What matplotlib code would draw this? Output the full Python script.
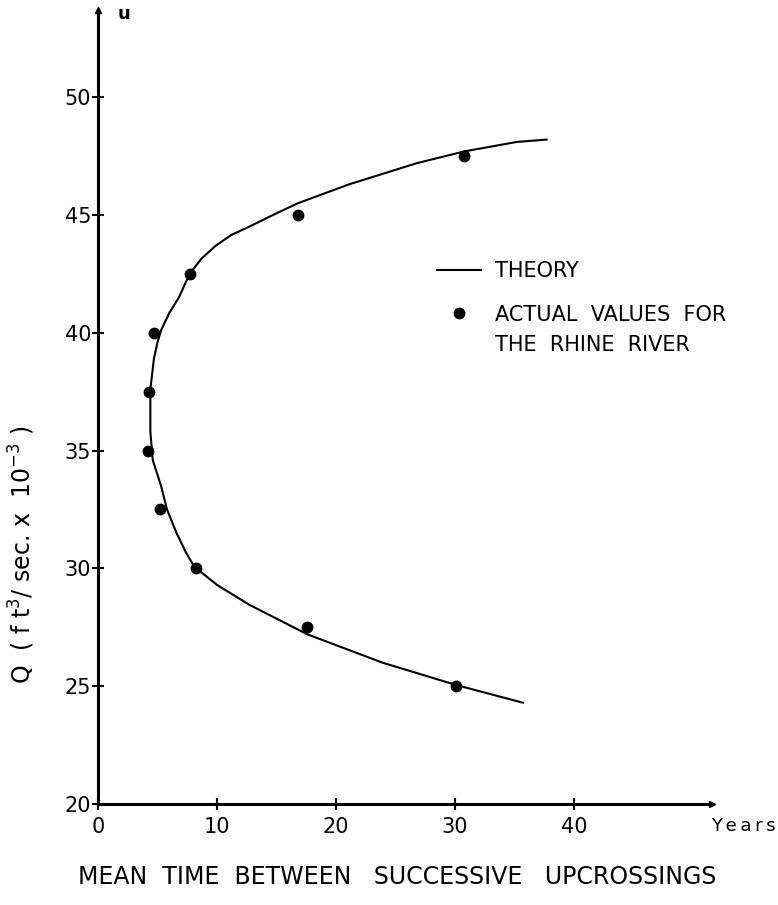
import matplotlib
matplotlib.use("Agg")
import matplotlib.pyplot as plt
from matplotlib.lines import Line2D

# theory curve (x = years, y = Q in 1000 ft3/s)
theory_x = [35.7, 30.1, 23.9, 17.6, 12.7, 10.0, 8.1, 7.4, 6.6, 5.8, 5.3, 4.6, 4.4,
            4.4, 4.7, 5.0, 5.3, 6.0, 6.8, 7.7, 8.7, 9.9, 11.2, 12.7, 14.5, 16.8,
            21.1, 26.8, 30.8, 35.2, 37.7]
theory_y = [24.3, 25.05, 26.0, 27.2, 28.46, 29.3, 30.07, 30.67, 31.5, 32.5, 33.5, 34.6, 35.8,
            37.6, 38.9, 39.6, 40.1, 40.85, 41.5, 42.5, 43.15, 43.7, 44.15, 44.5, 44.95, 45.5,
            46.3, 47.2, 47.7, 48.1, 48.2]

# actual values for the Rhine river
rhine_x = [30.8, 16.8, 7.7, 4.7, 4.3, 4.2, 5.2, 8.2, 17.6, 30.1]
rhine_y = [47.5, 45.0, 42.5, 40.0, 37.5, 35.0, 32.5, 30.0, 27.5, 25.0]

x_ticks = [0, 10, 20, 30, 40]
y_ticks = [20, 25, 30, 35, 40, 45, 50]

plt.rcParams['font.family'] = ['DejaVu Sans']

fig = plt.figure(figsize=(7.78, 9.05), dpi=100)
ax = fig.add_axes([98 / 778, 101 / 905, 614 / 778, 794 / 905])

ax.plot(theory_x, theory_y, color='black', lw=1.5)
ax.plot(rhine_x, rhine_y, 'o', color='black', ms=7.5)

ax.set_xlim(0, 51.6)
ax.set_ylim(20, 53.7)

for side in ['top', 'right']:
    ax.spines[side].set_visible(False)
for side in ['left', 'bottom']:
    ax.spines[side].set_linewidth(2.2)

# arrow heads at the axis ends
ax.plot(1, 20, '>k', ms=5, transform=ax.get_yaxis_transform(), clip_on=False)
ax.plot(0, 1, '^k', ms=5, transform=ax.get_xaxis_transform(), clip_on=False)

ax.set_xticks(x_ticks)
ax.set_yticks(y_ticks)
ax.tick_params(direction='inout', length=8, width=1.5, labelsize=15)
ax.tick_params(axis='x', pad=5)
ax.tick_params(axis='y', pad=1)

ax.text(1.104, -0.028, 'Y\u2009e\u2009a\u2009r\u2009s', transform=ax.transAxes,
        ha='right', va='center', fontsize=13)
ax.text(0.032, 0.995, 'u', transform=ax.transAxes, ha='left', va='center', fontsize=13,
        fontweight='bold')

fig.text(22 / 778, 1 - 555 / 905, r'Q  ( f t$^3$/ sec. x  10$^{-3}$ )', rotation=90,
         ha='center', va='center', fontsize=17)
fig.text(397 / 778, 1 - 877 / 905, 'MEAN  TIME  BETWEEN   SUCCESSIVE   UPCROSSINGS',
         ha='center', va='center', fontsize=17)

handles = [Line2D([], [], color='black', lw=1.5),
           Line2D([], [], marker='o', ls='none', color='black', ms=7.5)]
ax.legend(handles, ['THEORY', 'ACTUAL  VALUES  FOR'],
          loc='upper left', bbox_to_anchor=(0.552, 0.684), frameon=False,
          fontsize=15, handlelength=2.1, handletextpad=0.7, labelspacing=1.14,
          borderpad=0, borderaxespad=0)
ax.text((495 - 98) / 614, (804 - 345) / 794, 'THE  RHINE  RIVER', transform=ax.transAxes,
        ha='left', va='center', fontsize=15)

fig.savefig('out.png', dpi=100)
